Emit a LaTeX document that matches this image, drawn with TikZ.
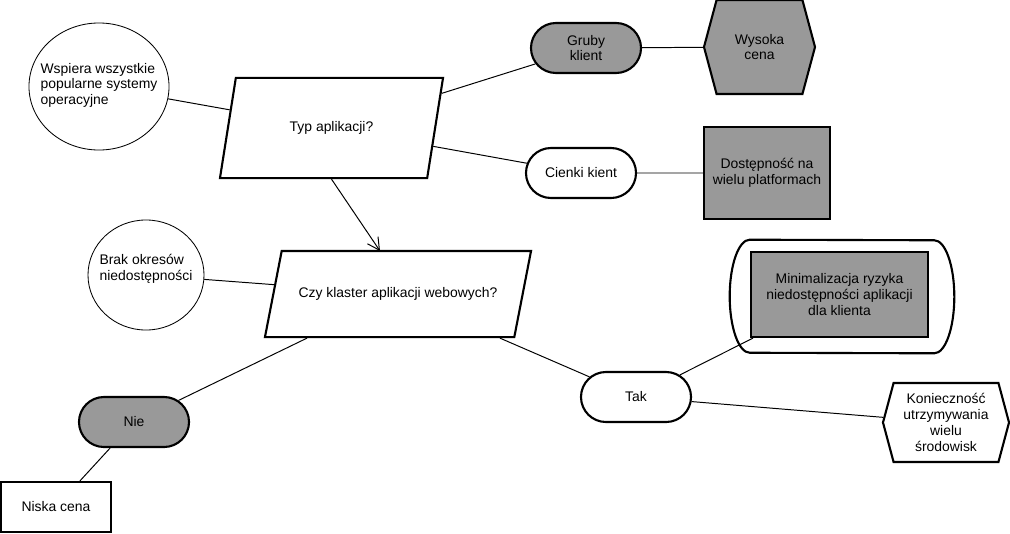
\documentclass[tikz,border=0pt]{standalone}
\usepackage{fontspec}
\setmainfont{Liberation Sans}
\usetikzlibrary{arrows.meta, shapes.geometric, shapes.misc, shapes.symbols}
\definecolor{boxgray}{RGB}{153,153,153}
\tikzset{
  every node/.style={font=\fontsize{9.9}{11.3}\selectfont, align=center, inner sep=0pt},
  thinline/.style={line width=0.7pt},
  oval/.style={ellipse, draw, line width=0.6pt},
  question/.style={trapezium, draw, line width=1.5pt, trapezium stretches body,
    trapezium left angle=81, trapezium right angle=99},
  pill/.style={rounded rectangle, draw, line width=1.5pt, minimum width=2.75cm, minimum height=1.25cm},
  hexa/.style={signal, signal to=west and east, signal pointer angle=150, draw, line width=1.5pt},
  plainbox/.style={rectangle, draw, line width=1.5pt},
}

\begin{document}
\begin{tikzpicture}[x=0.025cm, y=-0.025cm]
  \useasboundingbox (0,0) rectangle (1010,533);
  % Top question and its answers
  \node[oval, minimum width=3.5cm, minimum height=3.175cm,
    label={[align=left, yshift=0.03cm]center:Wspiera wszystkie\\popularne systemy\\operacyjne}] (wspiera) at (99,86.5) {};
  \node[question, minimum width=5.575cm, inner ysep=31pt] (typ) at (331.5,128) {Typ aplikacji?};
  \node[pill, fill=boxgray] (gruby) at (586,48) {Gruby\\klient};
  \node[hexa, fill=boxgray, minimum width=2.775cm, minimum height=2.35cm] (wysoka) at (759.5,47) {Wysoka\\cena};
  \node[pill] (cienki) at (581,173) {Cienki kient};
  \node[plainbox, fill=boxgray, minimum width=3.15cm, minimum height=2.3cm] (dostep) at (767,173) {Dostępność na\\wielu platformach};
  % Second question
  \node[oval, minimum width=2.9cm, minimum height=2.75cm,
    label={[align=left, yshift=0.15cm]center:Brak okresów\\niedostępności}] (brak) at (146,275) {};
  \node[question, trapezium left angle=79, trapezium right angle=101, minimum width=6.65cm, inner ysep=26pt] (czy) at (398,294) {Czy klaster aplikacji webowych?};
  \node[pill, fill=boxgray] (nie) at (134,422) {Nie};
  \node[plainbox, minimum width=2.75cm, minimum height=1.25cm] (niska) at (56,507) {Niska cena};
  \node[pill] (tak) at (636,397) {Tak};
  \node[minimum width=4.6cm, minimum height=2.825cm] (mincont) at (842,296.5) {};
  \draw[line width=1.5pt] (mincont.north west)
    arc[start angle=90, end angle=270, x radius=0.5cm, y radius=1.4125cm] -- (mincont.south east)
    arc[start angle=-90, end angle=90, x radius=0.5cm, y radius=1.4125cm] -- cycle;
  \node[plainbox, fill=boxgray, minimum width=4.425cm, minimum height=2.125cm] (minimal) at (839.5,294.5) {Minimalizacja ryzyka\\niedostępności aplikacji\\dla klienta};
  \node[hexa, minimum width=3.15cm, minimum height=1.975cm] (koniecz) at (946,422.5) {Konieczność\\utrzymywania\\wielu\\środowisk};
  % Connectors
  \coordinate (czytop) at (380,251);
  \draw[thinline] (wspiera) -- (typ);
  \draw[thinline] (typ) -- (gruby);
  \draw[thinline] (typ) -- (cienki);
  \draw[thinline] (gruby) -- (wysoka);
  \draw[thinline] (cienki) -- (dostep);
  \draw[thinline, -{Straight Barb[length=0.3cm, width=0.32cm]}] (typ.center |- typ.south) -- (czytop);
  \draw[thinline] (brak) -- (czy);
  \draw[thinline] (czy) -- (nie);
  \draw[thinline] (czy) -- (tak);
  \draw[thinline] (nie) -- (niska);
  \draw[thinline] (tak) -- (minimal);
  \draw[thinline] (tak) -- (koniecz);
\end{tikzpicture}
\end{document}
